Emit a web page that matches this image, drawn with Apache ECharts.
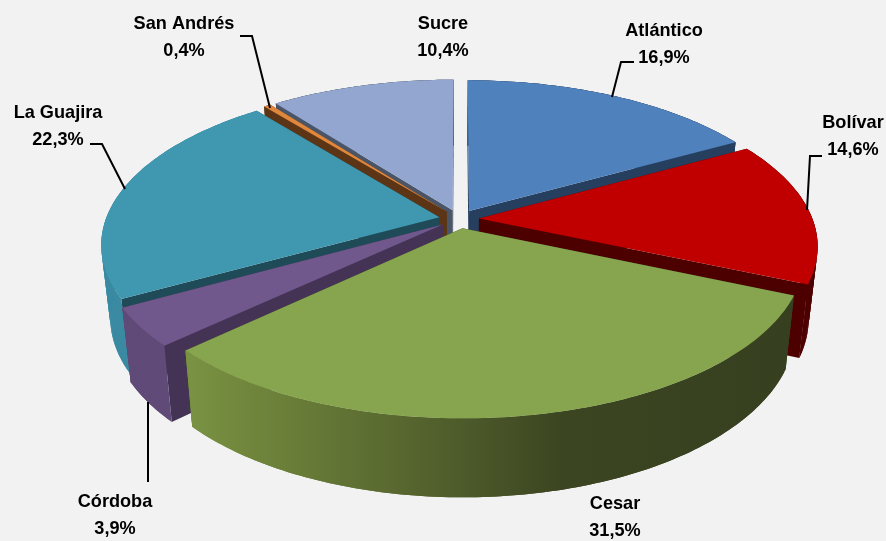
<!DOCTYPE html>
<html>
<head>
<meta charset="utf-8">
<style>html,body{margin:0;padding:0;background:#F2F2F2}#c{width:886px;height:541px}</style>
<script src="https://cdn.jsdelivr.net/npm/echarts@6/dist/echarts.min.js"></script>
</head>
<body>
<div id="c"></div>
<script>
// Data
const categories = ['Atlántico', 'Bolívar', 'Cesar', 'Córdoba', 'La Guajira', 'San Andrés', 'Sucre'];
const shares = [16.9, 14.6, 31.5, 3.9, 22.3, 0.4, 10.4];

// Style
const topColors = ['#4F81BD', '#C00000', '#87A44F', '#70588C', '#4097B0', '#E0873C', '#92A6CF'];
const cutColors = ['#263F5F', '#4D0000', '#3A4420', '#443355', '#1F4B58', '#5B3515', '#4A5568'];
const rimColors = ['#263F5F', '#4D0000', null, '#5F4A78', '#3A8AA2', '#5B3515', '#4A5568'];
const cesarRimStops = [
  { offset: 0, color: '#7A9343' }, { offset: 0.12, color: '#6F843B' },
  { offset: 0.42, color: '#515F2C' }, { offset: 0.62, color: '#3B4521' }, { offset: 1, color: '#364020' }
];
const drawOrder = [6, 5, 0, 4, 1, 3, 2];

// Label layout
const labelCenters = [[664, 44], [853, 136], [615, 517], [115, 515], [58, 126], [184, 37], [443, 37]];
const leaders = [
  [[634, 62], [621, 62], [612, 97]],
  [[822, 156], [810, 156], [807, 210]],
  [],
  [[148, 402], [148, 482]],
  [[90, 144], [102, 144], [125, 189]],
  [[240, 36], [252, 36], [270, 108]],
  []
];

// Projection of the tilted disc
const CX = 459, CY = 219, RX = 333.5, RY = 155, DIST = 6, EXPLODE = 0.06;
const BOTTOM_CY = 290, BOTTOM_SX = 0.975, BOTTOM_SY = 1.04;
function project(u, v) {
  const s = DIST / (DIST - v);
  return [CX + RX * u * s, CY + RY * v * s];
}
function lower(p) {
  return [CX + (p[0] - CX) * BOTTOM_SX, BOTTOM_CY + (p[1] - CY) * BOTTOM_SY];
}
const total = shares.reduce((a, b) => a + b, 0);
const starts = [];
shares.reduce((acc, v, i) => { starts[i] = acc; return acc + v; }, 0);

function sliceGeometry(i) {
  const a0 = starts[i] / total * 2 * Math.PI;
  const a1 = (starts[i] + shares[i]) / total * 2 * Math.PI;
  const mid = (a0 + a1) / 2;
  const ou = Math.sin(mid) * EXPLODE, ov = -Math.cos(mid) * EXPLODE;
  const n = Math.max(2, Math.ceil((a1 - a0) / (Math.PI / 180)));
  const arc = [];
  for (let k = 0; k <= n; k++) {
    const a = a0 + (a1 - a0) * k / n;
    arc.push(project(ou + Math.sin(a), ov - Math.cos(a)));
  }
  return { apex: project(ou, ov), arc };
}

function poly(points, fill, z2) {
  return { type: 'polygon', z2, silent: true, shape: { points }, style: { fill, stroke: null, lineWidth: 0 } };
}

function renderSlice(params, api) {
  const i = api.value(0);
  const g = sliceGeometry(i);
  const apexLow = lower(g.apex);
  const first = g.arc[0], last = g.arc[g.arc.length - 1];
  const base = params.dataIndex * 10;
  const rimFill = rimColors[i] || new echarts.graphic.LinearGradient(185, 0, 795, 0, cesarRimStops, true);
  const children = [
    poly([g.apex, first, lower(first), apexLow], cutColors[i], base),
    poly([g.apex, last, lower(last), apexLow], cutColors[i], base + 1)
  ];
  // overlapping wall strips hide the seams between neighbouring pieces
  const m = g.arc.length - 1;
  for (let k = 0; k < m; k++) {
    const strip = g.arc.slice(k, Math.min(k + 3, m + 1));
    children.push(poly(strip.concat(strip.map(lower).reverse()), rimFill, base + 2));
  }
  children.push(poly([g.apex].concat(g.arc), topColors[i], base + 3));
  return { type: 'group', children };
}

function renderLabel(params, api) {
  const i = api.value(0);
  const c = labelCenters[i];
  const text = categories[i] + '\n' + shares[i].toFixed(1).replace('.', ',') + '%';
  const children = [{
    type: 'text', x: c[0], y: c[1], scaleX: 0.955, scaleY: 1, silent: true,
    style: {
      text, x: 0, y: 0, align: 'center', verticalAlign: 'middle',
      font: 'bold 19px "Liberation Sans", Arial, sans-serif', lineHeight: 27, fill: '#000'
    }
  }];
  if (leaders[i].length) {
    children.push({
      type: 'polyline', silent: true, shape: { points: leaders[i] },
      style: { stroke: '#000', lineWidth: 2, fill: null }
    });
  }
  return { type: 'group', children };
}

const chart = echarts.init(document.getElementById('c'), null, { renderer: 'canvas' });
chart.setOption({
  animation: false,
  backgroundColor: '#F2F2F2',
  series: [
    { type: 'custom', coordinateSystem: 'none', z: 2, renderItem: renderSlice, data: drawOrder.map(i => [i, shares[i]]) },
    { type: 'custom', coordinateSystem: 'none', z: 3, renderItem: renderLabel, data: categories.map((c, i) => [i, shares[i]]) }
  ]
});
</script>
</body>
</html>
